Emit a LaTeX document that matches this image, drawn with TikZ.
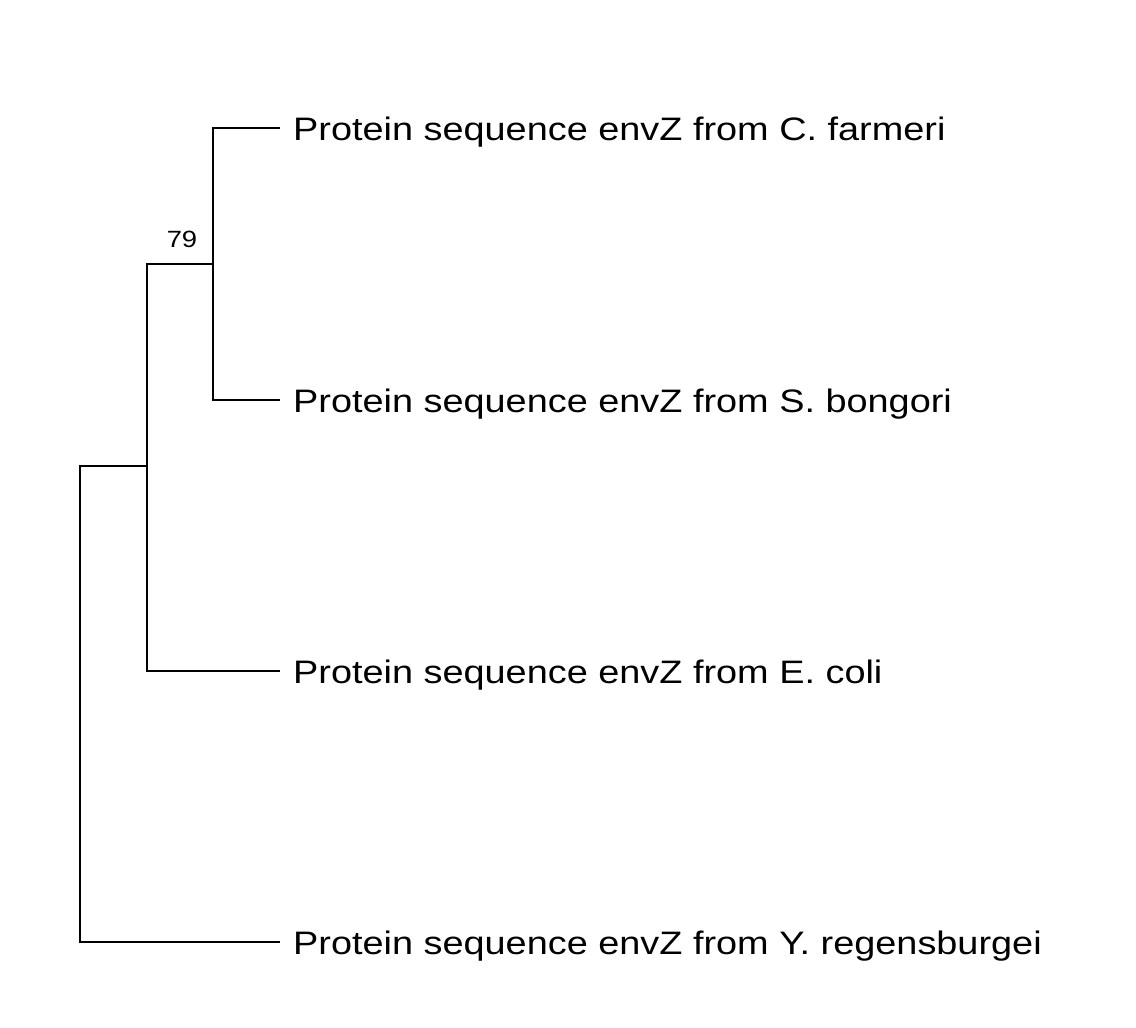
\documentclass[tikz,border=0pt]{standalone}
\usepackage{fontspec}
\setmainfont{Liberation Sans}[FakeStretch=1.165]
\begin{document}
\begin{tikzpicture}[x=1pt,y=-1pt,
  branch/.style={line width=2pt,line cap=rect},
  leaf/.style={anchor=base west,inner sep=0pt,font=\fontsize{32.5}{38}\selectfont},
  support/.style={anchor=center,inner sep=0pt,font=\fontsize{23.5}{27}\selectfont}]
\useasboundingbox (0,0) rectangle (1136,1028);
% internal nodes
\coordinate (root) at (80,466);
\coordinate (nB) at (147,466);
\coordinate (nBup) at (147,264);
\coordinate (nA) at (213,264);
% leaf tips
\coordinate (t1) at (279,128);
\coordinate (t2) at (279,400);
\coordinate (t3) at (279,671);
\coordinate (t4) at (279,942);
\node[leaf] (l1) at (293,140) {Protein sequence envZ from C. farmeri};
\node[leaf] (l2) at (293,412) {Protein sequence envZ from S. bongori};
\node[leaf] (l3) at (293,683) {Protein sequence envZ from E. coli};
\node[leaf] (l4) at (293,954) {Protein sequence envZ from Y. regensburgei};
\node[support] (s79) at (182,239) {79};
\draw[branch] (t1) -| (nA) |- (t2);
\draw[branch] (nBup) -- (nA);
\draw[branch] (nBup) |- (t3);
\draw[branch] (nB) -- (root);
\draw[branch] (root) |- (t4);
\end{tikzpicture}
\end{document}
